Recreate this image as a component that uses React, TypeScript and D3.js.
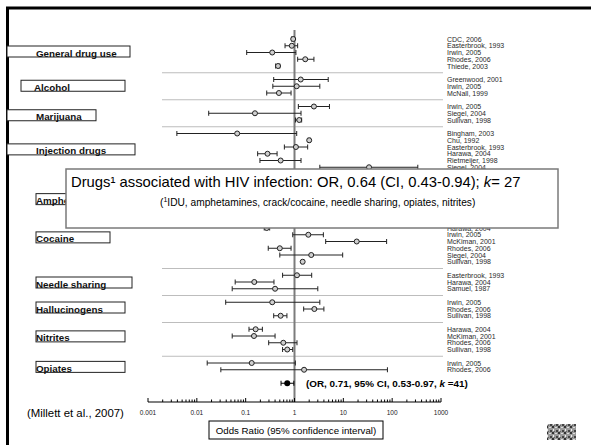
import React from "react";
import * as d3 from "d3";

const W = 591;
const H = 445;

// drug groups and the studies in each one (empty names = rows hidden under the overlay box)
const groupNames = [
  "General drug use",
  "Alcohol",
  "Marijuana",
  "Injection drugs",
  "Amphetamines",
  "Cocaine",
  "Needle sharing",
  "Hallucinogens",
  "Nitrites",
  "Opiates",
];

const studyNames = [
  ["CDC, 2006", "Easterbrook, 1993", "Irwin, 2005", "Rhodes, 2006", "Thiede, 2003"],
  ["Greenwood, 2001", "Irwin, 2005", "McNall, 1999"],
  ["Irwin, 2005", "Siegel, 2004", "Sullivan, 1998"],
  ["Bingham, 2003", "Chu, 1992", "Easterbrook, 1993", "Harawa, 2004", "Rietmeijer, 1998", "Siegel, 2004"],
  ["", "", "", "", "", ""],
  ["Harawa, 2004", "Irwin, 2005", "McKiman, 2001", "Rhodes, 2006", "Siegel, 2004", "Sullivan, 1998"],
  ["Easterbrook, 1993", "Harawa, 2004", "Samuel, 1987"],
  ["Irwin, 2005", "Rhodes, 2006", "Sullivan, 1998"],
  ["Harawa, 2004", "McKiman, 2001", "Rhodes, 2006", "Sullivan, 1998"],
  ["Irwin, 2005", "Rhodes, 2006"],
];

type V = number | null;

const oddsRatio: V[][] = [
  [0.94, 0.88, 0.35, 1.66, 0.46],
  [1.34, 1.11, 0.48],
  [2.5, 0.155, 1.25],
  [0.067, 2.0, 1.07, 0.28, 0.52, 33.6],
  [null, null, null, null, null, null],
  [0.27, 1.92, 18.8, 0.5, 2.2, 1.47],
  [1.125, 0.15, 0.4],
  [0.35, 2.55, 0.52],
  [0.16, 0.148, 0.59, 0.71],
  [0.133, 1.57],
];

const ciLow: V[][] = [
  [0.87, 0.64, 0.105, 1.16, 0.41],
  [0.375, 0.36, 0.27],
  [1.2, 0.0175, 1.05],
  [0.0039, 1.9, 0.62, 0.176, 0.196, 3.3],
  [null, null, null, null, null, null],
  [0.24, 0.92, 4.35, 0.29, 0.5, 1.4],
  [0.57, 0.061, 0.053],
  [0.039, 1.54, 0.375],
  [0.117, 0.053, 0.296, 0.57],
  [0.0163, 0.031],
];

const ciHigh: V[][] = [
  [1.0, 1.16, 1.07, 2.5, 0.5],
  [4.9, 3.3, 0.85],
  [5.2, 1.36, 1.4],
  [1.11, 2.1, 1.86, 0.44, 1.36, 335],
  [null, null, null, null, null, null],
  [0.31, 3.9, 77, 0.85, 9.7, 1.55],
  [2.25, 0.38, 3.0],
  [3.3, 4.0, 0.7],
  [0.22, 0.4, 1.125, 0.92],
  [1.04, 80],
];

const pooled = { or: 0.71, lo: 0.53, hi: 0.97 };
const axisTicks = [0.001, 0.01, 0.1, 1, 10, 100, 1000];
const tickLabels = ["0.001", "0.01", "0.1", "1", "10", "100", "1000"];

// hand placed label boxes, as in the original slide
const labelLayout: Record<string, { x0: number; x1: number; tx: number; dy: number }> = {
  "General drug use": { x0: 7, x1: 130, tx: 36, dy: 4.5 },
  Alcohol: { x0: 21, x1: 125, tx: 34, dy: 5 },
  Marijuana: { x0: 7, x1: 96, tx: 36, dy: 7.5 },
  "Injection drugs": { x0: 7, x1: 135, tx: 36, dy: 4.5 },
  Amphetamines: { x0: 36, x1: 130, tx: 36, dy: 7 },
  Cocaine: { x0: 36, x1: 110, tx: 36, dy: -2 },
  "Needle sharing": { x0: 36, x1: 132, tx: 36, dy: 6 },
  Hallucinogens: { x0: 36, x1: 125, tx: 36, dy: 4 },
  Nitrites: { x0: 36, x1: 125, tx: 36, dy: 2.5 },
  Opiates: { x0: 36, x1: 125, tx: 36, dy: 6 },
};

const FONT = "'Liberation Sans', Arial, Helvetica, sans-serif";

export default function App() {
  // lay rows out on slots, one empty slot between groups for the separator
  let slot = 0;
  const rows: { name: string; or: V; lo: V; hi: V; slot: number }[] = [];
  const seps: number[] = [];
  const groups: { name: string; center: number }[] = [];
  groupNames.forEach((g, gi) => {
    const start = slot;
    studyNames[gi].forEach((s, si) => {
      rows.push({ name: s, or: oddsRatio[gi][si], lo: ciLow[gi][si], hi: ciHigh[gi][si], slot });
      slot++;
    });
    groups.push({ name: g, center: (start + slot - 1) / 2 });
    if (gi < groupNames.length - 1) {
      seps.push(slot);
      slot++;
    }
  });
  const pooledSlot = slot + 1;

  const x = d3.scaleLog().domain([0.001, 1000]).range([148, 441]);
  const y = d3.scaleLinear().domain([0, pooledSlot]).range([39, 383.25]);

  const minor: number[] = [];
  for (let e = -3; e < 3; e++) {
    for (let k = 2; k < 10; k++) minor.push(k * Math.pow(10, e));
  }

  const axisY = 402;
  const cap = 2.5;

  return (
    <svg
      width={W}
      height={H}
      style={{ position: "absolute", left: 0, top: 0, background: "#fff" }}
      fontFamily={FONT}
    >
      <defs>
        <pattern id="noise" width="6" height="6" patternUnits="userSpaceOnUse">
          <rect width="6" height="6" fill="#9a9a9a" />
          <rect x="0" y="0" width="2" height="2" fill="#333" />
          <rect x="3" y="1" width="2" height="1" fill="#ddd" />
          <rect x="1" y="3" width="1" height="2" fill="#eee" />
          <rect x="4" y="4" width="2" height="2" fill="#444" />
          <rect x="2" y="5" width="1" height="1" fill="#666" />
        </pattern>
      </defs>

      {/* slide frame */}
      <rect x={7.5} y={8} width={700} height={600} fill="none" stroke="#000" strokeWidth={3} />

      {/* group separators */}
      {seps.map((s) => (
        <line key={"sep" + s} x1={162} x2={443} y1={y(s)} y2={y(s)} stroke="#bdbdbd" strokeWidth={1} />
      ))}

      {/* line of no effect */}
      <line x1={x(1)} x2={x(1)} y1={30} y2={axisY} stroke="#7c7c7c" strokeWidth={2} />

      {/* group labels */}
      {groups.map((g) => {
        const l = labelLayout[g.name];
        const bottom = y(g.center) + l.dy;
        return (
          <g key={g.name}>
            <rect x={l.x0} y={bottom - 11} width={l.x1 - l.x0} height={11} fill="#fff" stroke="#222" strokeWidth={1} />
            <text x={l.tx} y={bottom - 0.5} fontSize={9.8} fontWeight="bold" fill="#111">
              {g.name}
            </text>
          </g>
        );
      })}

      {/* study estimates */}
      {rows.map((r, i) => {
        const cy = y(r.slot);
        if (r.or == null || r.lo == null || r.hi == null) return null;
        return (
          <g key={"r" + i}>
            <line x1={x(r.lo)} x2={x(r.hi)} y1={cy} y2={cy} stroke="#222" strokeWidth={1} />
            <line x1={x(r.lo)} x2={x(r.lo)} y1={cy - cap} y2={cy + cap} stroke="#222" strokeWidth={1} />
            <line x1={x(r.hi)} x2={x(r.hi)} y1={cy - cap} y2={cy + cap} stroke="#222" strokeWidth={1} />
            <circle cx={x(r.or)} cy={cy} r={2.5} fill="#cfcfcf" stroke="#222" strokeWidth={1} />
          </g>
        );
      })}

      {/* study names */}
      {rows.map((r, i) =>
        r.name ? (
          <text key={"n" + i} x={447} y={y(r.slot) + 2.5} fontSize={7} fill="#2a2a2a">
            {r.name}
          </text>
        ) : null
      )}

      {/* pooled estimate */}
      <g>
        <line x1={x(pooled.lo)} x2={x(pooled.hi)} y1={y(pooledSlot)} y2={y(pooledSlot)} stroke="#000" strokeWidth={1} />
        <line x1={x(pooled.lo)} x2={x(pooled.lo)} y1={y(pooledSlot) - cap} y2={y(pooledSlot) + cap} stroke="#000" />
        <line x1={x(pooled.hi)} x2={x(pooled.hi)} y1={y(pooledSlot) - cap} y2={y(pooledSlot) + cap} stroke="#000" />
        <circle cx={x(pooled.or)} cy={y(pooledSlot)} r={3} fill="#000" />
        <text x={306} y={y(pooledSlot) + 4} fontSize={9.9} fontWeight="bold" fill="#000">
          (OR, 0.71, 95% CI, 0.53-0.97, <tspan fontStyle="italic">k</tspan> =41)
        </text>
      </g>

      {/* axis */}
      <line x1={x(0.001)} x2={x(1000)} y1={axisY} y2={axisY} stroke="#000" strokeWidth={1.2} />
      {minor.map((v) => (
        <line key={"m" + v} x1={x(v)} x2={x(v)} y1={axisY} y2={axisY - 2.5} stroke="#000" strokeWidth={1} />
      ))}
      {axisTicks.map((v, i) => (
        <g key={"t" + v}>
          <line x1={x(v)} x2={x(v)} y1={axisY} y2={axisY - 4} stroke="#000" strokeWidth={1} />
          <text x={x(v)} y={415} fontSize={6.5} textAnchor="middle" fill="#222">
            {tickLabels[i]}
          </text>
        </g>
      ))}

      <rect x={209} y={421} width={174} height={18} fill="#fff" stroke="#000" strokeWidth={1} />
      <text x={296} y={434} fontSize={9.7} textAnchor="middle" fill="#000">
        Odds Ratio (95% confidence interval)
      </text>

      <text x={27} y={417} fontSize={11.4} fill="#000">
        (Millett et al., 2007)
      </text>

      {/* overlay box */}
      <rect x={66} y={169} width={492} height={59} fill="#fff" stroke="#7a7a7a" strokeWidth={1.5} />
      <text x={71} y={187} fontSize={14.8} fill="#000">
        Drugs¹ associated with HIV infection: OR, 0.64 (CI, 0.43-0.94); <tspan fontStyle="italic">k</tspan>= 27
      </text>
      <text x={160} y={206} fontSize={10.2} fill="#000">
        (<tspan fontSize={7} dy={-4}>1</tspan>
        <tspan dy={4}>IDU, amphetamines, crack/cocaine, needle sharing, opiates, nitrites)</tspan>
      </text>

      {/* small logo at the corner */}
      <rect x={547} y={424} width={29} height={16} fill="url(#noise)" />
    </svg>
  );
}
